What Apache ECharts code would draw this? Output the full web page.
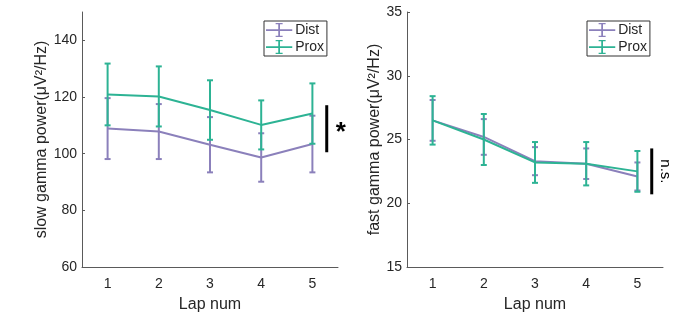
<!DOCTYPE html>
<html>
<head>
<meta charset="utf-8">
<script src="https://cdn.jsdelivr.net/npm/echarts@6/dist/echarts.min.js"></script>
<style>
  html, body { margin: 0; padding: 0; background: #fff; }
  #chart { width: 688px; height: 312px; }
</style>
</head>
<body>
<div id="chart"></div>
<script>
// lap numbers
const laps = ["1", "2", "3", "4", "5"];

// slow gamma power (mean and error)
const slowDistMean = [108.85, 107.8, 103.15, 98.65, 103.4];
const slowDistErr = [10.75, 9.7, 9.75, 8.55, 10.0];
const slowProxMean = [120.9, 120.2, 115.4, 110.15, 114.15];
const slowProxErr = [10.9, 10.6, 10.5, 8.65, 10.65];

// fast gamma power (mean and error)
const fastDistMean = [26.5, 25.2, 23.3, 23.1, 22.1];
const fastDistErr = [1.6, 1.4, 1.1, 1.2, 1.1];
const fastProxMean = [26.5, 25.0, 23.2, 23.1, 22.5];
const fastProxErr = [1.9, 2.0, 1.6, 1.7, 1.6];

// significance bars (value range) and marks
const sigSlow = [100.5, 117.1];
const sigFast = [20.7, 24.3];
const sigSlowText = "*";
const sigFastText = "n.s.";

const distColor = "#8b80bb";
const proxColor = "#2db394";
const axisColor = "#5a5a5a";
const textColor = "#262626";
const font = "'Liberation Sans', Arial, sans-serif";

const chart = echarts.init(document.getElementById("chart"));

function errData(mean, err) {
  return mean.map((m, i) => [i, m - err[i], m + err[i]]);
}

function errorBars(idx, mean, err, color) {
  return {
    type: "custom",
    xAxisIndex: idx,
    yAxisIndex: idx,
    data: errData(mean, err),
    silent: true,
    z: 3,
    renderItem: function (params, api) {
      const lo = api.coord([api.value(0), api.value(1)]);
      const hi = api.coord([api.value(0), api.value(2)]);
      const w = 3;
      const st = { stroke: color, lineWidth: 2 };
      return {
        type: "group",
        children: [
          { type: "line", shape: { x1: lo[0], y1: lo[1], x2: hi[0], y2: hi[1] }, style: st },
          { type: "line", shape: { x1: lo[0] - w, y1: lo[1], x2: lo[0] + w, y2: lo[1] }, style: st },
          { type: "line", shape: { x1: hi[0] - w, y1: hi[1], x2: hi[0] + w, y2: hi[1] }, style: st }
        ]
      };
    }
  };
}

function sigBar(idx, range, label, fontStyle, rot, dx, dy) {
  return {
    type: "custom",
    xAxisIndex: idx,
    yAxisIndex: idx,
    data: [[4, range[0], range[1]]],
    silent: true,
    renderItem: function (params, api) {
      const band = api.size([1, 0])[0];
      const lo = api.coord([api.value(0), api.value(1)]);
      const hi = api.coord([api.value(0), api.value(2)]);
      const x = lo[0] + band * 0.28;
      return {
        type: "group",
        children: [
          { type: "line", shape: { x1: x, y1: lo[1], x2: x, y2: hi[1] }, style: { stroke: "#000", lineWidth: 3 } },
          {
            type: "text",
            x: x + dx,
            y: (lo[1] + hi[1]) / 2 + dy,
            rotation: rot,
            style: { text: label, fill: "#000", font: fontStyle + " " + font, align: "center", verticalAlign: "middle" }
          }
        ]
      };
    }
  };
}

const legendIcon = "path://M0,9L30,9L30,11L0,11Z M14,2L16,2L16,18L14,18Z M11,2L19,2L19,3.5L11,3.5Z M11,16.5L19,16.5L19,18L11,18Z";

function xAxisCfg(idx) {
  return {
    type: "category",
    gridIndex: idx,
    data: laps,
    boundaryGap: true,
    name: "Lap num",
    nameLocation: "middle",
    nameGap: 30,
    nameTextStyle: { fontSize: 16, color: textColor, fontFamily: font },
    axisLine: { lineStyle: { color: axisColor, width: 1 } },
    axisTick: { alignWithLabel: true, inside: true, length: 3, lineStyle: { color: axisColor } },
    axisLabel: { fontSize: 14, color: textColor, fontFamily: font, margin: 10 }
  };
}

function yAxisCfg(idx, name, min, max, interval, gap) {
  return {
    type: "value",
    gridIndex: idx,
    min: min,
    max: max,
    interval: interval,
    name: name,
    nameLocation: "middle",
    nameGap: gap,
    nameTextStyle: { fontSize: 16, color: textColor, fontFamily: font },
    axisLine: { show: true, lineStyle: { color: axisColor, width: 1 } },
    axisTick: { show: true, inside: true, length: 3, lineStyle: { color: axisColor } },
    axisLabel: { fontSize: 14, color: textColor, fontFamily: font, margin: 5, showMaxLabel: max % interval === 0 },
    splitLine: { show: false }
  };
}

function legendCfg(left) {
  return {
    data: ["Dist", "Prox"],
    orient: "vertical",
    left: left,
    top: 21,
    icon: legendIcon,
    itemWidth: 28,
    itemHeight: 14,
    itemGap: 3,
    padding: [2, 3, 2, 2],
    borderColor: "#333",
    borderWidth: 1,
    backgroundColor: "#fff",
    selectedMode: false,
    textStyle: { fontSize: 14, color: textColor, fontFamily: font, padding: [0, 0, 0, -3] }
  };
}

const option = {
  animation: false,
  backgroundColor: "#fff",
  grid: [
    { left: 82, width: 256, top: 12, bottom: 45, containLabel: false, outerBoundsMode: "none" },
    { left: 407, width: 256, top: 12, bottom: 45, containLabel: false, outerBoundsMode: "none" }
  ],
  legend: [legendCfg(264), legendCfg(587)],
  xAxis: [xAxisCfg(0), xAxisCfg(1)],
  yAxis: [
    yAxisCfg(0, "slow gamma power(\u03bcV\u00b2/Hz)", 60, 150, 20, 31),
    yAxisCfg(1, "fast gamma power(\u03bcV\u00b2/Hz)", 15, 35, 5, 23)
  ],
  series: [
    { name: "Dist", type: "line", xAxisIndex: 0, yAxisIndex: 0, data: slowDistMean, symbol: "none", color: distColor, lineStyle: { width: 2, color: distColor }, z: 2 },
    errorBars(0, slowDistMean, slowDistErr, distColor),
    { name: "Prox", type: "line", xAxisIndex: 0, yAxisIndex: 0, data: slowProxMean, symbol: "none", color: proxColor, lineStyle: { width: 2, color: proxColor }, z: 4 },
    errorBars(0, slowProxMean, slowProxErr, proxColor),
    { name: "Dist", type: "line", xAxisIndex: 1, yAxisIndex: 1, data: fastDistMean, symbol: "none", color: distColor, lineStyle: { width: 2, color: distColor }, z: 2 },
    errorBars(1, fastDistMean, fastDistErr, distColor),
    { name: "Prox", type: "line", xAxisIndex: 1, yAxisIndex: 1, data: fastProxMean, symbol: "none", color: proxColor, lineStyle: { width: 2, color: proxColor }, z: 4 },
    errorBars(1, fastProxMean, fastProxErr, proxColor),
    sigBar(0, sigSlow, sigSlowText, "bold 26px", 0, 14, 4),
    sigBar(1, sigFast, sigFastText, "15px", -Math.PI / 2, 13, 0)
  ]
};

chart.setOption(option);
</script>
</body>
</html>
